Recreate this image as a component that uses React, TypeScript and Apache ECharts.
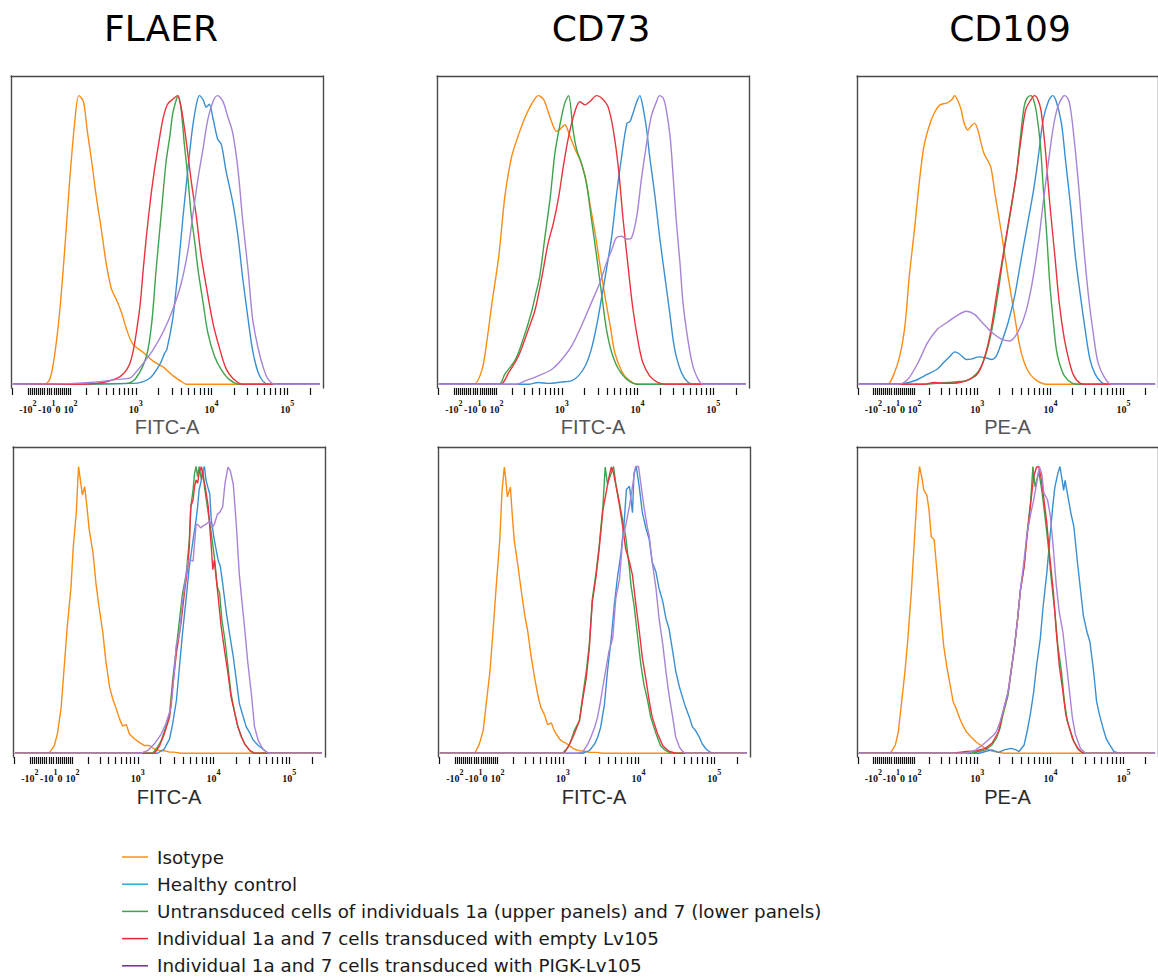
import React, { useEffect, useRef } from "react";
import * as echarts from "echarts";

// ---------- labels ----------
const MARKERS = ["FLAER", "CD73", "CD109"];
const CHANNELS = ["FITC-A", "FITC-A", "PE-A"];
const SERIES_NAMES = [
  "Isotype",
  "Healthy control",
  "Untransduced cells of individuals 1a (upper panels) and 7 (lower panels)",
  "Individual 1a and 7 cells transduced with empty Lv105",
  "Individual 1a and 7 cells transduced with PIGK-Lv105",
];
const LINE_COLORS = ["#fb8c16", "#3a8fd2", "#3ea34a", "#e8343b", "#a884d8"];
const LEGEND_COLORS = ["#f7901e", "#27a8e0", "#3ea34a", "#e8262d", "#6b2d92"];

// ---------- biexponential-like display scale (decades) ----------
const BIEX_K = 20906;
const biex = (v: number) => Math.log10((v + Math.sqrt(v * v + BIEX_K)) / 2);

const TICK_RAW = [
  -200, -100, -90, -80, -70, -60, -50, -40, -30, -20, -10, 0, 10, 20, 30, 40, 50, 60, 70, 80, 90,
  100, 200, 300, 400, 500, 600, 700, 800, 900, 1000, 2000, 3000, 4000, 5000, 6000, 7000, 8000,
  9000, 10000, 20000, 30000, 40000, 50000, 60000, 70000, 80000, 90000, 100000, 200000,
];
const LABEL_RAW = [-100, 0, 100, 1000, 10000, 100000];
const LABEL_TEXT = ["{b|-10}{s|2}", "{b|-10}{s|1}{b|0}", "{b|10}{s|2}", "{b|10}{s|3}", "{b|10}{s|4}", "{b|10}{s|5}"];

const X_MIN = 1.355;
const X_MAX = 5.47;
const Y_MIN = -1.3;
const Y_MAX = 106.8;

// ---------- data: [display decade, % of max] ----------
// FLAER upper (individual 1a)
const FLAER_U_ISO = [[1.38,0],[1.80,0],[1.87,2],[1.93,10],[2.00,26],[2.07,49],[2.13,71],[2.20,92],[2.25,100],[2.31,98],[2.36,88],[2.42,77],[2.48,65],[2.55,53],[2.61,42],[2.68,33],[2.75,29],[2.81,25],[2.88,19],[2.96,14],[3.10,11],[3.23,8],[3.36,6],[3.49,3],[3.60,1],[3.67,0],[5.43,0]];
const FLAER_U_HC = [[1.38,0],[2.96,0.3],[3.18,2],[3.32,7],[3.38,10.7],[3.41,12],[3.49,23],[3.56,40],[3.62,57],[3.67,70],[3.71,80],[3.75,89],[3.80,97],[3.84,100],[3.89,98.5],[3.93,96],[3.97,97],[4.02,92],[4.08,85],[4.13,83],[4.19,74],[4.28,63],[4.35,51],[4.41,37],[4.48,23],[4.54,12],[4.61,4.4],[4.68,1],[4.76,0],[5.43,0]];
const FLAER_U_UT = [[1.38,0],[2.88,0.3],[3.00,2],[3.14,9.6],[3.21,21],[3.27,40],[3.34,60],[3.40,77],[3.45,86],[3.49,94],[3.54,99],[3.56,100],[3.60,95],[3.64,83.5],[3.69,71],[3.73,59],[3.78,49],[3.82,40],[3.89,28],[3.95,18],[4.04,9.6],[4.13,5],[4.24,1.5],[4.37,0],[5.43,0]];
const FLAER_U_EMPTY = [[1.38,0],[2.30,0],[2.55,0.5],[2.75,2],[2.85,4],[2.92,7],[2.97,12],[3.02,20],[3.06,28],[3.10,40],[3.14,51],[3.19,63],[3.24,73],[3.30,83],[3.36,92],[3.42,97],[3.50,99],[3.55,100],[3.59,97],[3.62,92.7],[3.67,83.5],[3.73,70.8],[3.80,58],[3.86,45],[3.93,34],[4.02,21],[4.11,12],[4.19,5.5],[4.28,2.1],[4.41,0],[5.43,0]];
const FLAER_U_PIGK = [[1.38,0],[2.18,0.3],[2.53,0.9],[2.75,1.7],[2.92,2.1],[3.01,4.4],[3.10,7.3],[3.23,12],[3.36,18],[3.49,26],[3.60,35],[3.69,46.5],[3.75,58],[3.82,71],[3.89,82],[3.95,91.6],[4.02,98],[4.08,100],[4.15,98],[4.21,93],[4.28,87],[4.35,74],[4.41,57],[4.48,40],[4.54,23],[4.61,13],[4.68,6],[4.74,2],[4.83,0],[5.43,0]];

// CD73 upper
const CD73_U_ISO = [[1.38,0],[1.84,0],[1.95,5.2],[2.01,14.4],[2.08,28.2],[2.17,44.4],[2.25,65.1],[2.34,78.9],[2.43,86.4],[2.52,92.7],[2.61,97.4],[2.69,100],[2.76,98.7],[2.82,94.5],[2.89,89.3],[2.93,87.6],[2.98,88.4],[3.04,89.9],[3.11,85.8],[3.18,81.2],[3.24,77.8],[3.31,72],[3.37,62.8],[3.44,52.4],[3.50,42],[3.57,30.5],[3.64,20.2],[3.70,10.9],[3.79,4.6],[3.88,1.5],[4.01,0],[5.43,0]];
const CD73_U_HC = [[1.38,0],[2.56,0],[2.69,0.6],[2.82,0.3],[3.00,0.8],[3.13,1.2],[3.22,2.9],[3.31,6.3],[3.39,12.1],[3.46,20.2],[3.53,30.6],[3.59,39.8],[3.66,51.3],[3.72,65.1],[3.79,78.9],[3.86,90.4],[3.90,91],[3.94,93.9],[3.99,97.9],[4.03,100],[4.07,96.2],[4.12,88.1],[4.16,78.9],[4.23,65.1],[4.29,51.3],[4.36,37.4],[4.43,23.6],[4.49,12.1],[4.58,4],[4.67,0.6],[4.75,0],[5.43,0]];
const CD73_U_UT = [[1.38,0],[2.17,0],[2.25,3.5],[2.39,8.6],[2.52,17.9],[2.61,25.9],[2.65,30.5],[2.71,37.4],[2.78,51.3],[2.85,65.1],[2.91,80.1],[2.98,90.4],[3.04,97.4],[3.09,100],[3.15,88],[3.20,81],[3.26,76.6],[3.33,69],[3.39,57.6],[3.46,44.4],[3.53,30.5],[3.59,19],[3.66,10.9],[3.75,5.2],[3.88,1.2],[4.01,0],[5.43,0]];
const CD73_U_EMPTY = [[1.38,0],[2.19,0],[2.30,4],[2.43,9.8],[2.56,19],[2.65,25.9],[2.74,37.4],[2.82,48.8],[2.89,55.8],[2.96,64.9],[3.02,75.3],[3.09,85.7],[3.18,95],[3.24,97.9],[3.31,96.8],[3.37,97.9],[3.46,100],[3.53,99.1],[3.61,96.2],[3.68,88.1],[3.75,74.3],[3.81,57],[3.88,39.7],[3.94,25.9],[4.01,14.4],[4.07,7.5],[4.16,2.9],[4.27,0.6],[4.40,0],[5.43,0]];
const CD73_U_PIGK = [[1.38,0],[2.39,0],[2.52,1.2],[2.69,2.9],[2.87,5.2],[3.00,8.6],[3.13,13.2],[3.26,20.2],[3.39,28.2],[3.50,35],[3.59,42],[3.66,46.7],[3.72,50.7],[3.79,51.3],[3.86,50.3],[3.92,50.7],[3.99,58.2],[4.05,70.9],[4.12,83.5],[4.18,92.7],[4.25,97.9],[4.29,100],[4.34,99.1],[4.38,95],[4.43,85.7],[4.47,71.9],[4.51,56.9],[4.56,41.9],[4.60,28.1],[4.67,14.4],[4.73,6.3],[4.80,1.7],[4.86,0],[5.43,0]];

// CD109 upper
const CD109_U_ISO = [[1.38,0],[1.77,0],[1.85,2.9],[1.94,9.8],[2.01,20.2],[2.07,37.4],[2.14,53.5],[2.21,70.8],[2.27,82.4],[2.34,89.3],[2.41,93.9],[2.49,96.8],[2.58,97.4],[2.65,98.6],[2.69,100],[2.74,97.9],[2.78,95],[2.82,90.4],[2.87,88.1],[2.91,89.3],[2.96,90.4],[3.00,88.7],[3.09,80],[3.18,75.6],[3.24,66.2],[3.33,52.4],[3.42,37.4],[3.51,23.6],[3.59,12.1],[3.68,5.2],[3.79,1.7],[3.95,0],[5.43,0]];
const CD109_U_HC = [[1.38,0],[1.92,0],[2.14,1.2],[2.32,3.5],[2.45,5.2],[2.54,7.5],[2.63,9.8],[2.69,11.2],[2.76,10.4],[2.85,8.6],[2.93,8.8],[3.02,9.5],[3.11,9.2],[3.20,8.6],[3.26,9.8],[3.33,14.4],[3.42,21.3],[3.51,30.5],[3.59,42],[3.68,54.7],[3.77,67.4],[3.84,80.1],[3.90,91.7],[3.97,97.9],[4.03,100],[4.08,97.9],[4.15,90.4],[4.21,76.6],[4.28,60.5],[4.34,44.4],[4.41,30.5],[4.48,17.9],[4.54,8.6],[4.61,3.5],[4.70,0.6],[4.78,0],[5.43,0]];
const CD109_U_UT = [[1.38,0],[2.23,0],[2.58,0.6],[2.85,1.2],[2.93,2.3],[3.02,4.6],[3.11,9.8],[3.20,19],[3.29,32.8],[3.37,46.7],[3.46,60.5],[3.53,72],[3.59,85.8],[3.64,96.2],[3.68,99.1],[3.73,100],[3.77,98.5],[3.81,93.9],[3.86,83.5],[3.90,68.5],[3.95,51.3],[3.99,35.1],[4.04,21.3],[4.08,12.1],[4.12,7.5],[4.19,2.9],[4.30,0.3],[4.39,0],[5.43,0]];
const CD109_U_EMPTY = [[1.38,0],[2.27,0],[2.41,0.6],[2.58,0.3],[2.76,0.6],[2.89,1.7],[3.00,3.5],[3.09,8.6],[3.18,17.9],[3.26,30.5],[3.35,44.4],[3.44,58.2],[3.53,72],[3.59,83.5],[3.66,95],[3.73,98.5],[3.78,100],[3.82,99.1],[3.87,95],[3.93,81.2],[3.99,62.8],[4.06,44.4],[4.12,28.2],[4.19,15.6],[4.26,7.5],[4.32,2.9],[4.41,0.3],[4.50,0],[5.43,0]];
const CD109_U_PIGK = [[1.38,0],[1.92,0],[2.05,1.7],[2.19,7.5],[2.32,14.4],[2.45,19],[2.58,21.3],[2.71,23.6],[2.85,25.3],[2.96,24.2],[3.07,21.3],[3.20,17.9],[3.33,15.6],[3.44,15],[3.55,17.9],[3.66,24.8],[3.75,35.1],[3.84,50.1],[3.90,62.8],[3.97,76.6],[4.04,89.3],[4.10,96.2],[4.17,99.7],[4.20,100],[4.26,97.4],[4.32,85.8],[4.39,67.4],[4.45,49],[4.52,30.5],[4.59,16.7],[4.65,7.5],[4.74,2.3],[4.83,0],[5.43,0]];

// FLAER lower (individual 7)
const FLAER_L_ISO = [[1.38,0],[1.83,0],[1.90,2.7],[1.94,6.7],[1.99,16],[2.03,30],[2.07,44],[2.12,58],[2.15,72],[2.19,84],[2.21,95],[2.22,100],[2.25,94],[2.27,90],[2.30,93],[2.33,86],[2.36,78],[2.41,70],[2.45,59],[2.49,51],[2.54,42],[2.58,32],[2.63,23],[2.67,19],[2.71,16],[2.76,12],[2.80,9.5],[2.85,10],[2.89,6.7],[2.96,5],[3.02,3.8],[3.09,2.7],[3.15,2.7],[3.22,1.5],[3.29,0.9],[3.35,0.9],[3.42,0.4],[3.48,0.4],[3.57,0],[5.43,0]];
const FLAER_L_HC = [[1.38,0],[3.26,0],[3.35,1.5],[3.42,5],[3.46,10.2],[3.51,18.4],[3.55,30],[3.59,41.6],[3.64,54.4],[3.68,65],[3.73,74.4],[3.77,81.4],[3.79,86],[3.81,91.9],[3.84,95.3],[3.86,98.8],[3.88,100],[3.90,95.3],[3.93,92.3],[3.95,90.5],[3.97,81.4],[4.01,74.4],[4.06,67.4],[4.09,65.1],[4.12,59.3],[4.17,48.8],[4.21,41.9],[4.26,33.7],[4.30,25.6],[4.34,17.4],[4.39,12.8],[4.43,9.3],[4.48,7],[4.52,4.7],[4.59,2.7],[4.65,1.5],[4.72,0],[5.43,0]];
const FLAER_L_UT = [[1.38,0],[3.20,0],[3.26,2.1],[3.31,4.4],[3.37,9.1],[3.42,13.7],[3.46,25.3],[3.51,37],[3.55,46.3],[3.59,55.6],[3.64,62.6],[3.68,74.2],[3.70,86],[3.73,91.9],[3.75,97.7],[3.77,100],[3.79,96.5],[3.81,100],[3.84,95.3],[3.86,98.8],[3.88,93],[3.93,83.7],[3.97,76.7],[4.01,68.6],[4.05,58.1],[4.08,55.8],[4.11,46.5],[4.15,39.5],[4.19,30.2],[4.23,20.9],[4.28,14],[4.32,9.3],[4.37,5.6],[4.41,3.3],[4.48,0.9],[4.54,0],[5.43,0]];
const FLAER_L_EMPTY = [[1.38,0],[3.22,0],[3.29,2.7],[3.35,6.7],[3.42,12.6],[3.46,23],[3.51,34.9],[3.57,45.3],[3.62,56.9],[3.66,65.1],[3.68,72.1],[3.70,86],[3.73,88.4],[3.75,93],[3.77,95.3],[3.79,94.2],[3.81,97.7],[3.84,100],[3.86,96.5],[3.89,93],[3.93,86],[3.97,72.1],[3.99,64],[4.01,67.4],[4.06,54.7],[4.10,44.2],[4.15,34.9],[4.19,27.9],[4.23,19.8],[4.28,14],[4.32,9.3],[4.37,5.6],[4.41,3.3],[4.48,0.9],[4.54,0],[5.43,0]];
const FLAER_L_PIGK = [[1.38,0],[3.04,0],[3.13,0.9],[3.22,3.3],[3.31,6.7],[3.37,10.2],[3.44,16],[3.48,27.6],[3.51,38],[3.55,41.4],[3.59,53],[3.64,62.3],[3.66,67],[3.68,67.6],[3.73,67],[3.77,79.8],[3.79,79.8],[3.83,78.6],[3.86,79.3],[3.90,79.8],[3.95,81],[3.98,78.6],[4.01,79.8],[4.05,83.3],[4.08,84],[4.12,85.8],[4.15,93.9],[4.19,99.8],[4.22,98.6],[4.26,93.9],[4.30,79.8],[4.34,62.3],[4.37,54.2],[4.41,43.7],[4.45,32.1],[4.50,20.5],[4.54,9.3],[4.59,4.4],[4.65,1.5],[4.72,0],[5.43,0]];

// CD73 lower
const CD73_L_ISO = [[1.38,0],[1.84,0],[1.90,3.2],[1.95,7.8],[1.99,17],[2.04,28.5],[2.08,42.3],[2.12,57.2],[2.17,74.4],[2.20,91.7],[2.23,99.8],[2.25,95.2],[2.27,89.4],[2.31,92.8],[2.33,84.8],[2.36,74.4],[2.41,65.3],[2.45,57.2],[2.50,48],[2.54,42.3],[2.58,34.3],[2.63,26.2],[2.67,20.5],[2.71,16.1],[2.76,13.4],[2.80,10],[2.85,10.6],[2.89,7.7],[2.96,4.9],[3.00,4],[3.04,3.6],[3.09,2.6],[3.15,1.5],[3.22,0.9],[3.29,0.7],[3.35,0.3],[3.44,0.3],[3.53,0],[5.43,0]];
const CD73_L_HC = [[1.38,0],[3.26,0],[3.35,0.9],[3.42,3.2],[3.46,5.5],[3.50,9],[3.55,17],[3.59,28.5],[3.64,40.2],[3.68,51.7],[3.72,60.9],[3.77,70.1],[3.81,80.5],[3.84,92],[3.88,93.1],[3.92,83.9],[3.94,97.7],[3.97,100],[4.01,92.8],[4.05,83.9],[4.10,78.2],[4.14,74.7],[4.18,66.7],[4.23,63.2],[4.27,57.5],[4.32,52.9],[4.36,47.1],[4.40,43.7],[4.45,35.6],[4.49,28.7],[4.54,23],[4.58,19.5],[4.62,16.1],[4.67,12.6],[4.71,9.2],[4.75,8],[4.80,5.7],[4.84,3.3],[4.89,1.5],[4.93,0.7],[4.97,0],[5.43,0]];
const CD73_L_UT = [[1.38,0],[3.00,0],[3.07,2.1],[3.11,4.4],[3.15,7.8],[3.22,11.3],[3.26,19.3],[3.31,28.5],[3.35,37.7],[3.39,53.8],[3.44,63],[3.48,72.2],[3.53,86],[3.56,99.8],[3.59,94],[3.64,97.7],[3.67,100],[3.70,94],[3.75,87.1],[3.79,81.4],[3.83,75.6],[3.88,64.4],[3.90,58.6],[3.94,51.7],[3.99,40.2],[4.03,31],[4.07,24.1],[4.12,18.4],[4.16,12.6],[4.23,6.9],[4.29,2.6],[4.36,0.9],[4.43,0],[5.43,0]];
const CD73_L_EMPTY = [[1.38,0],[3.02,0],[3.09,3.2],[3.15,6.6],[3.22,11.3],[3.26,18.2],[3.31,26.2],[3.35,36.5],[3.39,52.6],[3.44,61.8],[3.48,71],[3.53,84.8],[3.57,90.5],[3.61,96.3],[3.64,99.8],[3.67,97.7],[3.70,93.7],[3.75,86.2],[3.79,79.3],[3.83,71.3],[3.88,66.7],[3.92,62.1],[3.96,52.9],[4.01,42.5],[4.05,33.3],[4.10,25.3],[4.14,18.4],[4.18,12.6],[4.25,6.9],[4.32,2.6],[4.40,0.7],[4.49,0],[5.43,0]];
const CD73_L_PIGK = [[1.38,0],[3.18,0],[3.26,0.3],[3.33,3.2],[3.37,5.5],[3.42,9],[3.46,12.6],[3.50,18.4],[3.55,26.4],[3.61,35.6],[3.66,40.2],[3.70,54],[3.75,60.9],[3.79,74.7],[3.83,79.3],[3.88,86.2],[3.92,93.1],[3.96,100],[4.00,100],[4.03,94],[4.07,86.2],[4.12,78.2],[4.14,75.9],[4.18,66.7],[4.23,57.5],[4.27,47.1],[4.32,37.9],[4.36,28.7],[4.40,20.7],[4.45,12.6],[4.49,5.7],[4.54,2.1],[4.58,0.7],[4.62,0],[5.43,0]];

// CD109 lower
const CD109_L_ISO = [[1.38,0],[1.81,0],[1.88,2.9],[1.92,7.5],[1.96,16.7],[2.01,28.3],[2.05,39.8],[2.10,57.1],[2.14,74.4],[2.18,91.7],[2.21,100],[2.24,96.3],[2.27,91.7],[2.31,90],[2.34,84.8],[2.37,75.6],[2.41,74.4],[2.45,62.9],[2.49,51.3],[2.54,37.5],[2.58,30.6],[2.63,23.6],[2.67,17.9],[2.71,15.6],[2.76,12.1],[2.80,9.8],[2.85,7.5],[2.91,5.8],[2.98,4],[3.04,2.9],[3.11,1.7],[3.20,0.8],[3.29,0.3],[3.37,0],[5.43,0]];
const CD109_L_HC = [[1.38,0],[3.02,0],[3.11,0.6],[3.20,1.2],[3.29,0.3],[3.37,1.2],[3.46,1.7],[3.53,1.2],[3.57,0.6],[3.64,2.9],[3.68,7.5],[3.73,14.4],[3.77,21.3],[3.81,30.6],[3.86,39.8],[3.90,51.3],[3.95,62.9],[3.99,74.4],[4.03,85.9],[4.06,92.8],[4.10,97.5],[4.13,100],[4.16,95.2],[4.18,91.7],[4.20,95.2],[4.23,90.7],[4.28,83.6],[4.32,79],[4.37,66.3],[4.41,57.1],[4.45,47.9],[4.50,42.2],[4.54,38.8],[4.59,28.5],[4.63,18.1],[4.67,13.4],[4.72,8.7],[4.76,5.2],[4.81,2.9],[4.87,0.6],[4.94,0],[5.43,0]];
const CD109_L_UT = [[1.38,0],[2.93,0],[3.02,0.6],[3.11,1.2],[3.20,2.9],[3.26,5.2],[3.31,8.7],[3.35,13.3],[3.42,20.2],[3.46,28.3],[3.51,37.5],[3.55,46.7],[3.59,57.1],[3.64,65.2],[3.68,76.7],[3.73,88.2],[3.76,100],[3.79,92.8],[3.84,98.3],[3.88,91.9],[3.93,81.5],[3.97,72.3],[4.01,60.8],[4.06,49.3],[4.10,37.7],[4.15,28.5],[4.19,18.1],[4.23,11.2],[4.30,5.2],[4.37,1.7],[4.43,0.3],[4.50,0],[5.43,0]];
const CD109_L_EMPTY = [[1.38,0],[2.67,0],[2.85,0.6],[2.98,0.8],[3.11,1.7],[3.20,3.5],[3.29,7.5],[3.35,14.4],[3.42,21.3],[3.46,28.3],[3.51,37.5],[3.55,46.7],[3.59,57.1],[3.64,65.2],[3.68,75.6],[3.73,87.2],[3.77,96.4],[3.81,99.8],[3.84,100],[3.87,96.4],[3.90,90.7],[3.95,80.3],[3.99,68.7],[4.04,56],[4.08,42.2],[4.12,30.6],[4.17,21.5],[4.21,13.4],[4.26,8.7],[4.32,4],[4.39,1.2],[4.45,0],[5.43,0]];
const CD109_L_PIGK = [[1.38,0],[2.85,0],[2.98,1.2],[3.07,2.9],[3.15,4.6],[3.22,6.3],[3.26,7.5],[3.31,10.9],[3.35,14.4],[3.42,21.3],[3.46,28.3],[3.51,37.5],[3.55,46.7],[3.59,57.1],[3.64,67.5],[3.68,76.7],[3.73,83.6],[3.77,88.2],[3.81,94],[3.85,99.8],[3.88,97.5],[3.91,90.7],[3.96,88.4],[4.00,82.6],[4.04,71.1],[4.08,58.4],[4.12,49.3],[4.17,42.2],[4.21,33],[4.26,21.5],[4.30,12.3],[4.34,6.6],[4.41,1.7],[4.48,0],[5.43,0]];

// ---------- panel table ----------
const PANELS = [
  { row: 0, col: 0, smooth: 0.3, data: [FLAER_U_ISO, FLAER_U_HC, FLAER_U_UT, FLAER_U_EMPTY, FLAER_U_PIGK] },
  { row: 0, col: 1, smooth: 0.3, data: [CD73_U_ISO, CD73_U_HC, CD73_U_UT, CD73_U_EMPTY, CD73_U_PIGK] },
  { row: 0, col: 2, smooth: 0.3, data: [CD109_U_ISO, CD109_U_HC, CD109_U_UT, CD109_U_EMPTY, CD109_U_PIGK] },
  { row: 1, col: 0, smooth: 0, data: [FLAER_L_ISO, FLAER_L_HC, FLAER_L_UT, FLAER_L_EMPTY, FLAER_L_PIGK] },
  { row: 1, col: 1, smooth: 0, data: [CD73_L_ISO, CD73_L_HC, CD73_L_UT, CD73_L_EMPTY, CD73_L_PIGK] },
  { row: 1, col: 2, smooth: 0, data: [CD109_L_ISO, CD109_L_HC, CD109_L_UT, CD109_L_EMPTY, CD109_L_PIGK] },
];

const COL_LEFT = [[11, 437, 857], [13, 438, 857]];
const ROW_TOP = [76, 447];
const ROW_HEIGHT = [312, 310];
const PANEL_WIDTH = 312;
const TITLE_X = [161, 601, 1010];
const LEGEND_Y0 = 857;
const LEGEND_DY = 27.2;

const tickU = TICK_RAW.map(biex);
const labelU = LABEL_RAW.map((v) => (v >= 1000 ? Math.log10(v) : biex(v)));

function labelFor(val: number) {
  let best = 0;
  let bd = Infinity;
  labelU.forEach((u, i) => {
    const d = Math.abs(u - val);
    if (d < bd) {
      bd = d;
      best = i;
    }
  });
  return LABEL_TEXT[best];
}

function buildOption() {
  const grid: any[] = [];
  const xAxis: any[] = [];
  const yAxis: any[] = [];
  const series: any[] = [];
  const frame = { show: true, onZero: false, lineStyle: { color: "#4a4a4a", width: 1.4 } };

  PANELS.forEach((p, i) => {
    grid.push({ left: COL_LEFT[p.row][p.col], top: ROW_TOP[p.row], width: PANEL_WIDTH, height: ROW_HEIGHT[p.row] });
    xAxis.push({
      gridIndex: i,
      type: "value",
      min: X_MIN,
      max: X_MAX,
      position: "bottom",
      axisLine: { show: false, onZero: false },
      splitLine: { show: false },
      axisTick: { show: true, customValues: tickU, length: 7, lineStyle: { color: "#111", width: 1.2 } },
      axisLabel: {
        customValues: labelU,
        margin: 11,
        formatter: (v: number) => labelFor(v),
        rich: {
          b: { fontFamily: "Liberation Serif", fontWeight: "bold", fontSize: 10, color: "#111", lineHeight: 15, verticalAlign: "bottom" },
          s: { fontFamily: "Liberation Serif", fontWeight: "bold", fontSize: 8, color: "#111", lineHeight: 15, verticalAlign: "top" },
        },
      },
      name: CHANNELS[p.col],
      nameLocation: "middle",
      nameGap: p.row === 0 ? 29 : 30,
      nameTextStyle: {
        fontFamily: "Liberation Sans",
        fontSize: 20,
        color: p.row === 0 ? "#555" : "#2a2a2a",
      },
    });
    xAxis.push({
      gridIndex: i,
      type: "value",
      min: X_MIN,
      max: X_MAX,
      position: "top",
      axisLine: frame,
      axisTick: { show: false },
      axisLabel: { show: false },
      splitLine: { show: false },
    });
    yAxis.push({
      gridIndex: i,
      type: "value",
      min: Y_MIN,
      max: Y_MAX,
      position: "left",
      axisLine: frame,
      axisTick: { show: false },
      axisLabel: { show: false },
      splitLine: { show: false },
    });
    yAxis.push({
      gridIndex: i,
      type: "value",
      min: Y_MIN,
      max: Y_MAX,
      position: "right",
      axisLine: frame,
      axisTick: { show: false },
      axisLabel: { show: false },
      splitLine: { show: false },
    });
    p.data.forEach((d, k) => {
      series.push({
        type: "line",
        name: SERIES_NAMES[k],
        xAxisIndex: 2 * i,
        yAxisIndex: 2 * i,
        data: d,
        symbol: "none",
        smooth: p.smooth,
        silent: true,
        lineStyle: { color: LINE_COLORS[k], width: 1.4 },
        z: 2 + k,
      });
    });
  });

  const graphic: any[] = [];
  MARKERS.forEach((m, i) => {
    graphic.push({
      type: "text",
      x: TITLE_X[i],
      y: 28,
      style: { text: m, font: "36px 'DejaVu Sans'", fill: "#000", textAlign: "center", textVerticalAlign: "middle" },
    });
  });
  SERIES_NAMES.forEach((n, k) => {
    const y = LEGEND_Y0 + k * LEGEND_DY;
    graphic.push({
      type: "line",
      shape: { x1: 122, y1: y, x2: 148, y2: y },
      style: { stroke: LEGEND_COLORS[k], lineWidth: 1.5 },
    });
    graphic.push({
      type: "text",
      x: 157,
      y,
      style: { text: n, font: "18.3px 'DejaVu Sans'", fill: "#1a1a1a", textVerticalAlign: "middle" },
    });
  });

  return { animation: false, backgroundColor: "#fff", grid, xAxis, yAxis, series, graphic };
}

export default function App() {
  const ref = useRef<HTMLDivElement>(null);
  useEffect(() => {
    if (!ref.current) return;
    const chart = echarts.init(ref.current, null, { renderer: "svg" });
    chart.setOption(buildOption() as any);
    return () => chart.dispose();
  }, []);
  return <div ref={ref} style={{ position: "absolute", left: 0, top: 0, width: 1158, height: 980 }} />;
}
